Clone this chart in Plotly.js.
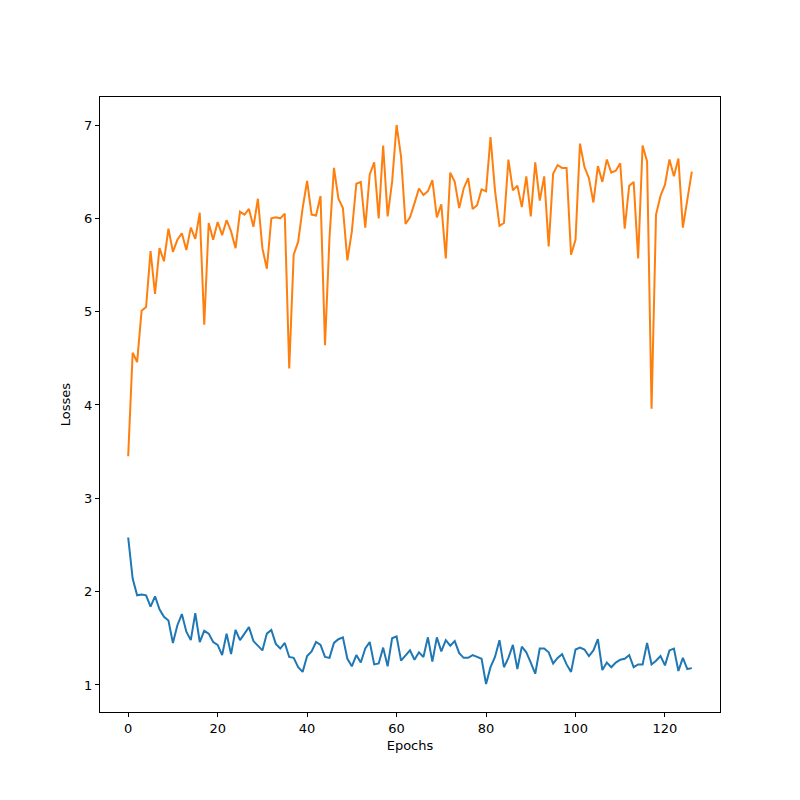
<!DOCTYPE html>
<html>
<head>
<meta charset="utf-8">
<script src="https://cdn.plot.ly/plotly-3.0.1.min.js"></script>
<style>html,body{margin:0;padding:0;background:#fff;}#chart{width:800px;height:800px;}</style>
</head>
<body>
<div id="chart"></div>
<script>
const trainLoss = [2.58,2.14,1.96,1.97,1.96,1.84,1.95,1.81,1.73,1.69,1.45,1.64,1.76,1.57,1.48,1.77,1.46,1.58,1.55,1.46,
1.43,1.32,1.55,1.33,1.59,1.48,1.55,1.62,1.47,1.42,1.37,1.55,1.59,1.44,1.39,1.45,1.30,1.29,1.19,1.14,
1.31,1.36,1.46,1.43,1.30,1.29,1.45,1.49,1.51,1.28,1.20,1.32,1.24,1.39,1.46,1.22,1.23,1.40,1.20,1.50,
1.52,1.26,1.32,1.37,1.27,1.35,1.30,1.51,1.25,1.51,1.36,1.48,1.42,1.47,1.34,1.29,1.29,1.32,1.30,1.28,
1.01,1.19,1.30,1.48,1.19,1.29,1.43,1.17,1.41,1.35,1.24,1.12,1.39,1.39,1.35,1.23,1.29,1.33,1.22,1.14,
1.38,1.40,1.38,1.31,1.37,1.49,1.16,1.24,1.19,1.24,1.27,1.28,1.32,1.19,1.22,1.22,1.45,1.22,1.26,1.31,
1.21,1.37,1.39,1.15,1.29,1.17,1.18];
const valLoss = [3.45,4.56,4.46,5.01,5.05,5.65,5.19,5.68,5.54,5.89,5.64,5.77,5.84,5.66,5.90,5.78,6.06,4.86,5.95,5.77,
5.96,5.82,5.98,5.86,5.68,6.07,6.04,6.10,5.91,6.21,5.68,5.46,6.00,6.01,6.00,6.05,4.39,5.61,5.75,6.11,
6.40,6.04,6.03,6.24,4.64,5.79,6.54,6.21,6.11,5.55,5.86,6.37,6.39,5.90,6.47,6.60,6.00,6.78,6.02,6.39,
7.00,6.66,5.94,6.01,6.16,6.32,6.25,6.29,6.41,6.01,6.15,5.57,6.49,6.39,6.11,6.32,6.43,6.10,6.14,6.31,
6.29,6.87,6.30,5.92,5.95,6.63,6.30,6.35,6.12,6.45,6.02,6.60,6.19,6.45,5.70,6.48,6.57,6.54,6.54,5.61,
5.77,6.80,6.55,6.43,6.17,6.56,6.39,6.63,6.49,6.51,6.59,5.89,6.35,6.39,5.57,6.78,6.61,3.96,6.04,6.24,
6.36,6.63,6.45,6.64,5.90,6.20,6.50];
const epochs = trainLoss.map((_, i) => i);
const xLabel = "Epochs";
const yLabel = "Losses";

const axisCommon = {
  showgrid: false, zeroline: false,
  showline: true, mirror: true, linecolor: '#000', linewidth: 1,
  ticks: 'outside', ticklen: 4, tickwidth: 1, tickcolor: '#000',
  tickfont: {family: 'DejaVu Sans', size: 13, color: '#000'}
};
const layout = {
  width: 800, height: 800,
  margin: {l: 100, r: 80, t: 97, b: 88},
  paper_bgcolor: '#fff', plot_bgcolor: '#fff',
  showlegend: false,
  xaxis: Object.assign({}, axisCommon, {
    range: [-6.3, 132.3], tickvals: [0,20,40,60,80,100,120],
    title: {text: xLabel, font: {family: 'DejaVu Sans', size: 13, color: '#000'}, standoff: 6}
  }),
  yaxis: Object.assign({}, axisCommon, {
    range: [0.71, 7.30], tickvals: [1,2,3,4,5,6,7],
    title: {text: yLabel, font: {family: 'DejaVu Sans', size: 13, color: '#000'}, standoff: 10}
  })
};
const traces = [
  {x: epochs, y: trainLoss, type: 'scatter', mode: 'lines', line: {color: '#1f77b4', width: 2}},
  {x: epochs, y: valLoss, type: 'scatter', mode: 'lines', line: {color: '#ff7f0e', width: 2}}
];
Plotly.newPlot('chart', traces, layout, {displayModeBar: false, staticPlot: true});
</script>
</body>
</html>
